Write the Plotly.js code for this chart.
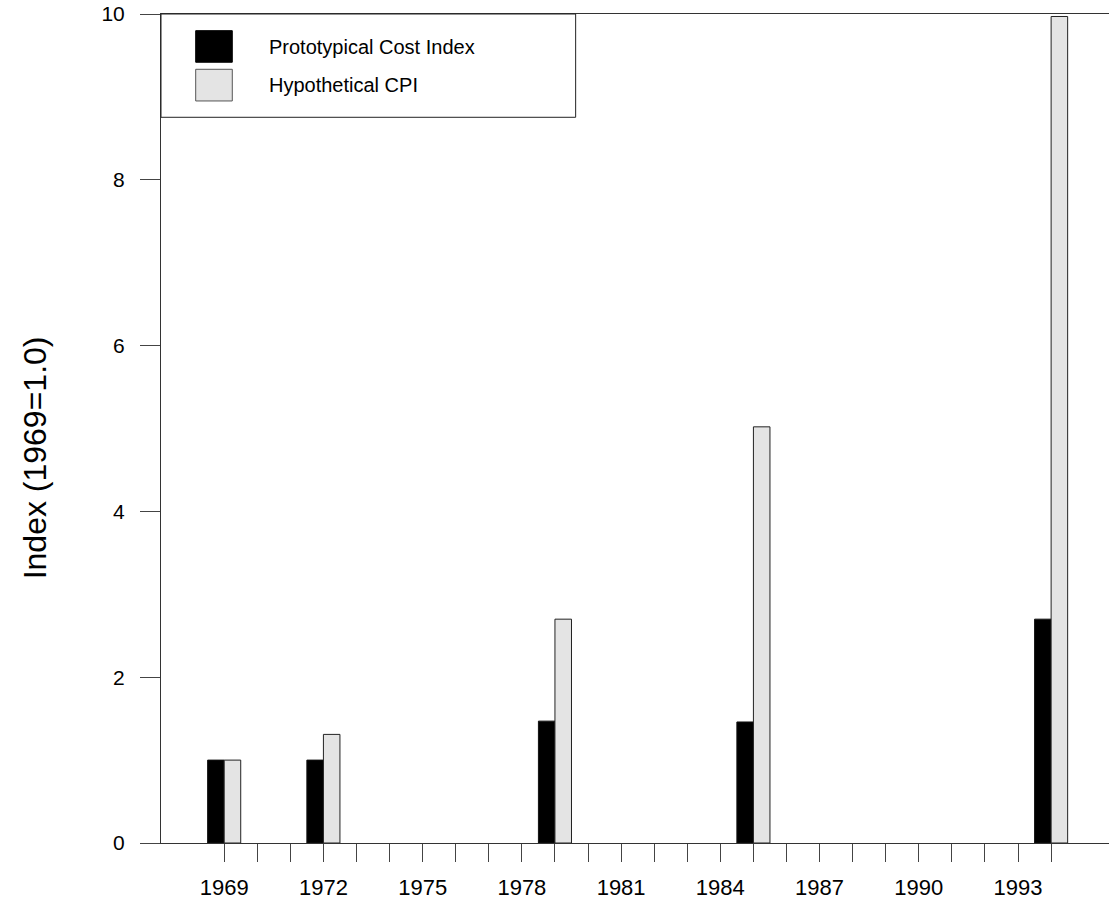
<!DOCTYPE html>
<html>
<head>
<meta charset="utf-8">
<script src="https://cdn.plot.ly/plotly-3.0.1.min.js"></script>
<style>
html,body{margin:0;padding:0;background:#fff;}
#chart{width:1109px;height:905px;}
</style>
</head>
<body>
<div id="chart"></div>
<script>
// ---- data ----
const years = [1969, 1972, 1979, 1985, 1994];
const prototypicalCostIndex = [1.0, 1.0, 1.47, 1.46, 2.70];
const hypotheticalCPI = [1.0, 1.31, 2.70, 5.02, 9.97];
const seriesNames = ["Prototypical Cost Index", "Hypothetical CPI"];
const tickYears = [1969,1970,1971,1972,1973,1974,1975,1976,1977,1978,1979,1980,1981,1982,1983,1984,1985,1986,1987,1988,1989,1990,1991,1992,1993,1994];
const labelledYears = [1969,1972,1975,1978,1981,1984,1987,1990,1993];
const yTitle = "Index (1969=1.0)";

const tickText = tickYears.map(y => labelledYears.includes(y) ? String(y) : "");

const FONT = "Liberation Sans, Arial, Helvetica, sans-serif";
const blackFill = "#000000";
const grayFill = "#e4e4e4";

const traces = [
  {
    type: "bar", name: seriesNames[0], x: years, y: prototypicalCostIndex,
    width: 0.5, offset: -0.5,
    marker: {color: blackFill, line: {color: "#111", width: 1}},
    showlegend: false, hoverinfo: "x+y"
  },
  {
    type: "bar", name: seriesNames[1], x: years, y: hypotheticalCPI,
    width: 0.5, offset: 0,
    marker: {color: grayFill, line: {color: "#222", width: 1}},
    showlegend: false, hoverinfo: "x+y"
  }
];

const layout = {
  width: 1109, height: 905,
  margin: {l: 161, r: 0, t: 14, b: 62, pad: 0},
  paper_bgcolor: "#fff", plot_bgcolor: "#fff",
  barmode: "overlay",
  font: {family: FONT, color: "#000"},
  xaxis: {
    range: [1967.09, 1995.75],
    tickmode: "array", tickvals: tickYears, ticktext: tickText,
    ticks: "outside", ticklen: 18, tickwidth: 1, tickcolor: "#444",
    tickfont: {size: 22, family: FONT, color: "#000"},
    ticklabelstandoff: 7,
    showgrid: false, zeroline: false,
    showline: true, linecolor: "#333", linewidth: 1, mirror: true
  },
  yaxis: {
    range: [0, 10],
    tickvals: [0, 2, 4, 6, 8, 10],
    ticks: "outside", ticklen: 20, tickwidth: 1, tickcolor: "#444",
    tickfont: {size: 21, family: FONT, color: "#000"},
    ticklabelstandoff: 11,
    showgrid: false, zeroline: false,
    showline: true, linecolor: "#333", linewidth: 1, mirror: false
  },
  shapes: [
    // legend frame
    {type: "rect", xref: "paper", yref: "paper", x0: 0, x1: 0.4374, y0: 0.8754, y1: 1,
     line: {color: "#222", width: 1}, fillcolor: "#fff", layer: "above"},
    {type: "rect", xref: "paper", yref: "paper", x0: 0.0366, x1: 0.0752, y0: 0.9418, y1: 0.9799,
     line: {color: "#000", width: 1}, fillcolor: blackFill, layer: "above"},
    {type: "rect", xref: "paper", yref: "paper", x0: 0.0366, x1: 0.0752, y0: 0.8951, y1: 0.9333,
     line: {color: "#555", width: 1}, fillcolor: grayFill, layer: "above"}
  ],
  annotations: [
    {xref: "paper", yref: "paper", x: 0.112, y: 0.9607, xanchor: "left", yanchor: "middle",
     text: seriesNames[0], showarrow: false, font: {size: 20, family: FONT, color: "#000"}},
    {xref: "paper", yref: "paper", x: 0.112, y: 0.9142, xanchor: "left", yanchor: "middle",
     text: seriesNames[1], showarrow: false, font: {size: 20, family: FONT, color: "#000"}},
    {xref: "paper", yref: "paper", x: -0.1329, y: 0.464, xanchor: "center", yanchor: "middle",
     textangle: -90, text: yTitle, showarrow: false,
     font: {size: 32, family: FONT, color: "#000"}}
  ]
};

Plotly.newPlot("chart", traces, layout, {displayModeBar: false, staticPlot: true});
</script>
</body>
</html>
